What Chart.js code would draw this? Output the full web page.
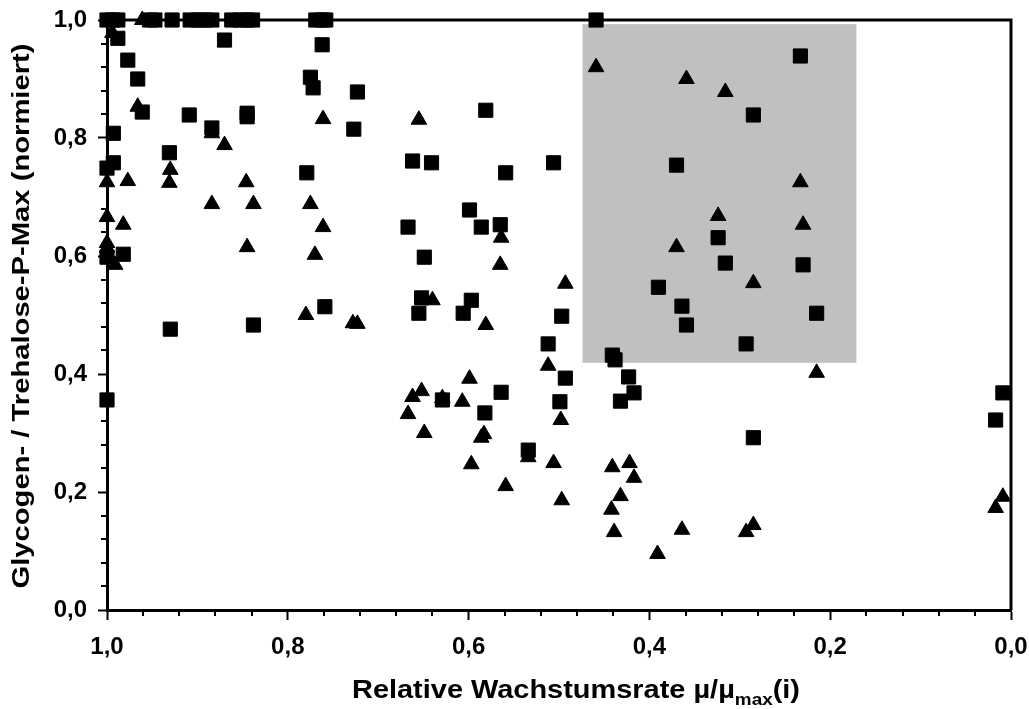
<!DOCTYPE html>
<html>
<head>
<meta charset="utf-8">
<script src="https://cdn.jsdelivr.net/npm/chart.js@4.4.0/dist/chart.umd.min.js"></script>
<style>
  html, body { margin: 0; padding: 0; background: #fff; }
</style>
</head>
<body>
<canvas id="chart" width="1029" height="709"></canvas>
<script>
// Glycogen (squares) and trehalose-P (triangles), normalised to max, vs. relative growth rate
const squareX = [
  1.000, 0.994, 0.988, 0.953, 0.947, 0.928, 0.908, 0.899, 0.892, 0.884, 0.862, 0.853, 0.845, 0.839, 0.769, 0.762, 0.758, 0.459,
  1.000, 1.000, 0.982, 1.000, 0.993, 0.993, 0.988, 0.977, 0.966, 0.961, 0.931, 0.930, 0.909, 0.884, 0.870, 0.845, 0.845, 0.838,
  0.779, 0.775, 0.772, 0.762, 0.759, 0.723, 0.727,
  0.667, 0.662, 0.641, 0.655, 0.652, 0.649, 0.629, 0.606, 0.597, 0.599, 0.586, 0.582, 0.581, 0.565, 0.564, 0.559,
  0.534, 0.512, 0.506, 0.499, 0.497, 0.493,
  0.441, 0.438, 0.432, 0.423, 0.417, 0.390, 0.370, 0.364, 0.359, 0.324, 0.316, 0.293, 0.285, 0.285, 0.233, 0.230, 0.215, 0.017, 0.009
];
const squareY = [
  1, 1, 1, 1, 1, 1, 1, 1, 1, 1, 1, 1, 1, 1, 1, 1, 1, 1,
  0.356, 0.598, 0.603, 0.749, 0.758, 0.808, 0.969, 0.932, 0.900, 0.844, 0.775, 0.476, 0.839, 0.817, 0.966, 0.842, 0.836, 0.483,
  0.741, 0.903, 0.885, 0.958, 0.514, 0.878, 0.815,
  0.649, 0.761, 0.758, 0.503, 0.529, 0.598, 0.356, 0.503, 0.525, 0.678, 0.649, 0.334, 0.847, 0.653, 0.369, 0.741,
  0.271, 0.451, 0.758, 0.353, 0.498, 0.393,
  0.432, 0.424, 0.354, 0.395, 0.368, 0.547, 0.754, 0.515, 0.483, 0.631, 0.588, 0.451, 0.839, 0.292, 0.939, 0.585, 0.503, 0.322, 0.368
];
const triangleX = [
  0.994, 0.961, 0.966, 0.884, 0.870, 1.000, 0.977, 0.931, 0.930, 0.846, 0.884, 0.838, 0.775,
  1.000, 0.982, 0.761, 0.845, 1.000, 1.000, 0.991, 0.770, 0.780, 0.761, 0.728, 0.723,
  0.655, 0.640, 0.581, 0.564, 0.565, 0.493, 0.512, 0.498, 0.599, 0.652, 0.662, 0.629, 0.607, 0.667, 0.649, 0.583, 0.586, 0.534, 0.597, 0.506, 0.559, 0.497,
  0.441, 0.422, 0.417, 0.432, 0.442, 0.439, 0.391, 0.364, 0.293, 0.285,
  0.459, 0.359, 0.316, 0.233, 0.324, 0.230, 0.370, 0.285, 0.215, 0.009, 0.017
];
const triangleY = [
  0.978, 1.000, 0.853, 0.808, 0.788, 0.725, 0.727, 0.724, 0.746, 0.725, 0.688, 0.688, 0.688,
  0.666, 0.653, 0.649, 0.615, 0.614, 0.622, 0.585, 0.602, 0.500, 0.832, 0.486, 0.485,
  0.831, 0.525, 0.483, 0.631, 0.585, 0.553, 0.414, 0.322, 0.392, 0.371, 0.361, 0.359, 0.353, 0.332, 0.300, 0.298, 0.292, 0.259, 0.247, 0.249, 0.210, 0.186,
  0.242, 0.249, 0.224, 0.193, 0.170, 0.132, 0.095, 0.136, 0.132, 0.144,
  0.920, 0.900, 0.878, 0.725, 0.668, 0.653, 0.615, 0.554, 0.402, 0.192, 0.173
];

// shaded window (x range, y range)
const shadeX = [0.474, 0.171];
const shadeY = [0.419, 0.993];

const xTitle = ["Relative Wachstumsrate \u00b5/\u00b5", "max", "(i)"];
const yTitle = "Glycogen- / Trehalose-P-Max (normiert)";

const FONT = '"Liberation Sans", Arial, sans-serif';

const toPoints = (xs, ys) => xs.map((x, i) => ({ x: x, y: ys[i] }));
const commaLabel = (v) => Number(v).toFixed(1).replace(".", ",");

// text drawn with a horizontal stretch so it spans a given length
function drawStretched(ctx, parts, cx, cy, targetWidth, angle) {
  ctx.save();
  ctx.translate(cx, cy);
  ctx.rotate(angle);
  let total = 0;
  parts.forEach((p) => {
    ctx.font = "bold " + p.size + "px " + FONT;
    p.w = ctx.measureText(p.text).width;
    total += p.w;
  });
  ctx.scale(targetWidth / total, 1);
  ctx.fillStyle = "#000";
  ctx.textBaseline = "alphabetic";
  ctx.textAlign = "left";
  let x = -total / 2;
  parts.forEach((p) => {
    ctx.font = "bold " + p.size + "px " + FONT;
    ctx.fillText(p.text, x, p.dy);
    x += p.w;
  });
  ctx.restore();
}

const decorations = {
  id: "decorations",
  beforeDatasetsDraw(chart) {
    const { ctx, chartArea, scales } = chart;
    const x = scales.x, y = scales.y;
    // grey window
    const x1 = x.getPixelForValue(shadeX[0]);
    const x2 = x.getPixelForValue(shadeX[1]);
    const y1 = y.getPixelForValue(shadeY[1]);
    const y2 = y.getPixelForValue(shadeY[0]);
    ctx.save();
    ctx.fillStyle = "#c0c0c0";
    ctx.fillRect(x1, y1, x2 - x1, y2 - y1);
    // top and right frame
    ctx.strokeStyle = "#000";
    ctx.lineWidth = 3;
    ctx.beginPath();
    ctx.moveTo(chartArea.left, chartArea.top);
    ctx.lineTo(chartArea.right, chartArea.top);
    ctx.lineTo(chartArea.right, chartArea.bottom);
    ctx.stroke();
    ctx.restore();
  },
  afterDraw(chart) {
    const { ctx, chartArea, scales } = chart;
    ctx.save();
    ctx.strokeStyle = "#000";
    ctx.lineWidth = 2;
    // minor ticks every 0.04
    for (let i = 1; i < 25; i++) {
      if (i % 5 === 0) continue;
      const v = i * 0.04;
      const px = Math.round(scales.x.getPixelForValue(v));
      ctx.beginPath();
      ctx.moveTo(px, chartArea.bottom);
      ctx.lineTo(px, chartArea.bottom + 6);
      ctx.stroke();
      const py = Math.round(scales.y.getPixelForValue(v));
      ctx.beginPath();
      ctx.moveTo(chartArea.left - 6, py);
      ctx.lineTo(chartArea.left, py);
      ctx.stroke();
    }
    ctx.restore();

    drawStretched(ctx, [
      { text: xTitle[0], size: 26, dy: 0 },
      { text: xTitle[1], size: 17, dy: 7 },
      { text: xTitle[2], size: 26, dy: 0 }
    ], 576, 698, 448, 0);
    drawStretched(ctx, [{ text: yTitle, size: 23, dy: 0 }], 29, 316, 545, -Math.PI / 2);
  }
};

const markerStyle = {
  backgroundColor: "#000",
  borderColor: "#000",
  borderWidth: 1,
  showLine: false,
  clip: false
};

const ctx = document.getElementById("chart").getContext("2d");
new Chart(ctx, {
  type: "scatter",
  data: {
    datasets: [
      Object.assign({
        label: "Glycogen",
        data: toPoints(squareX, squareY),
        pointStyle: "rect",
        pointRadius: 10
      }, markerStyle),
      Object.assign({
        label: "Trehalose-P",
        data: toPoints(triangleX, triangleY),
        pointStyle: "triangle",
        pointRadius: 9
      }, markerStyle)
    ]
  },
  options: {
    responsive: false,
    animation: false,
    layout: { padding: { top: 20, right: 18, left: 0, bottom: 0 } },
    plugins: {
      legend: { display: false },
      tooltip: { enabled: false }
    },
    scales: {
      x: {
        type: "linear",
        reverse: true,
        min: 0,
        max: 1,
        afterFit: (scale) => {
          scale.height = 99;
          scale.paddingLeft = 0;
          scale.paddingRight = 0;
        },
        ticks: {
          stepSize: 0.2,
          callback: commaLabel,
          color: "#000",
          padding: 13,
          maxRotation: 0,
          font: { family: FONT, size: 24, weight: "bold" }
        },
        grid: {
          drawOnChartArea: false,
          drawTicks: true,
          tickLength: 10,
          tickWidth: 2,
          tickColor: "#000"
        },
        border: { display: true, width: 3, color: "#000" }
      },
      y: {
        type: "linear",
        min: 0,
        max: 1,
        afterFit: (scale) => {
          scale.width = 107;
          scale.paddingTop = 0;
          scale.paddingBottom = 0;
        },
        ticks: {
          stepSize: 0.2,
          callback: commaLabel,
          color: "#000",
          padding: 11,
          font: { family: FONT, size: 24, weight: "bold" }
        },
        grid: {
          drawOnChartArea: false,
          drawTicks: true,
          tickLength: 9,
          tickWidth: 2,
          tickColor: "#000"
        },
        border: { display: true, width: 3, color: "#000" }
      }
    }
  },
  plugins: [decorations]
});
</script>
</body>
</html>
